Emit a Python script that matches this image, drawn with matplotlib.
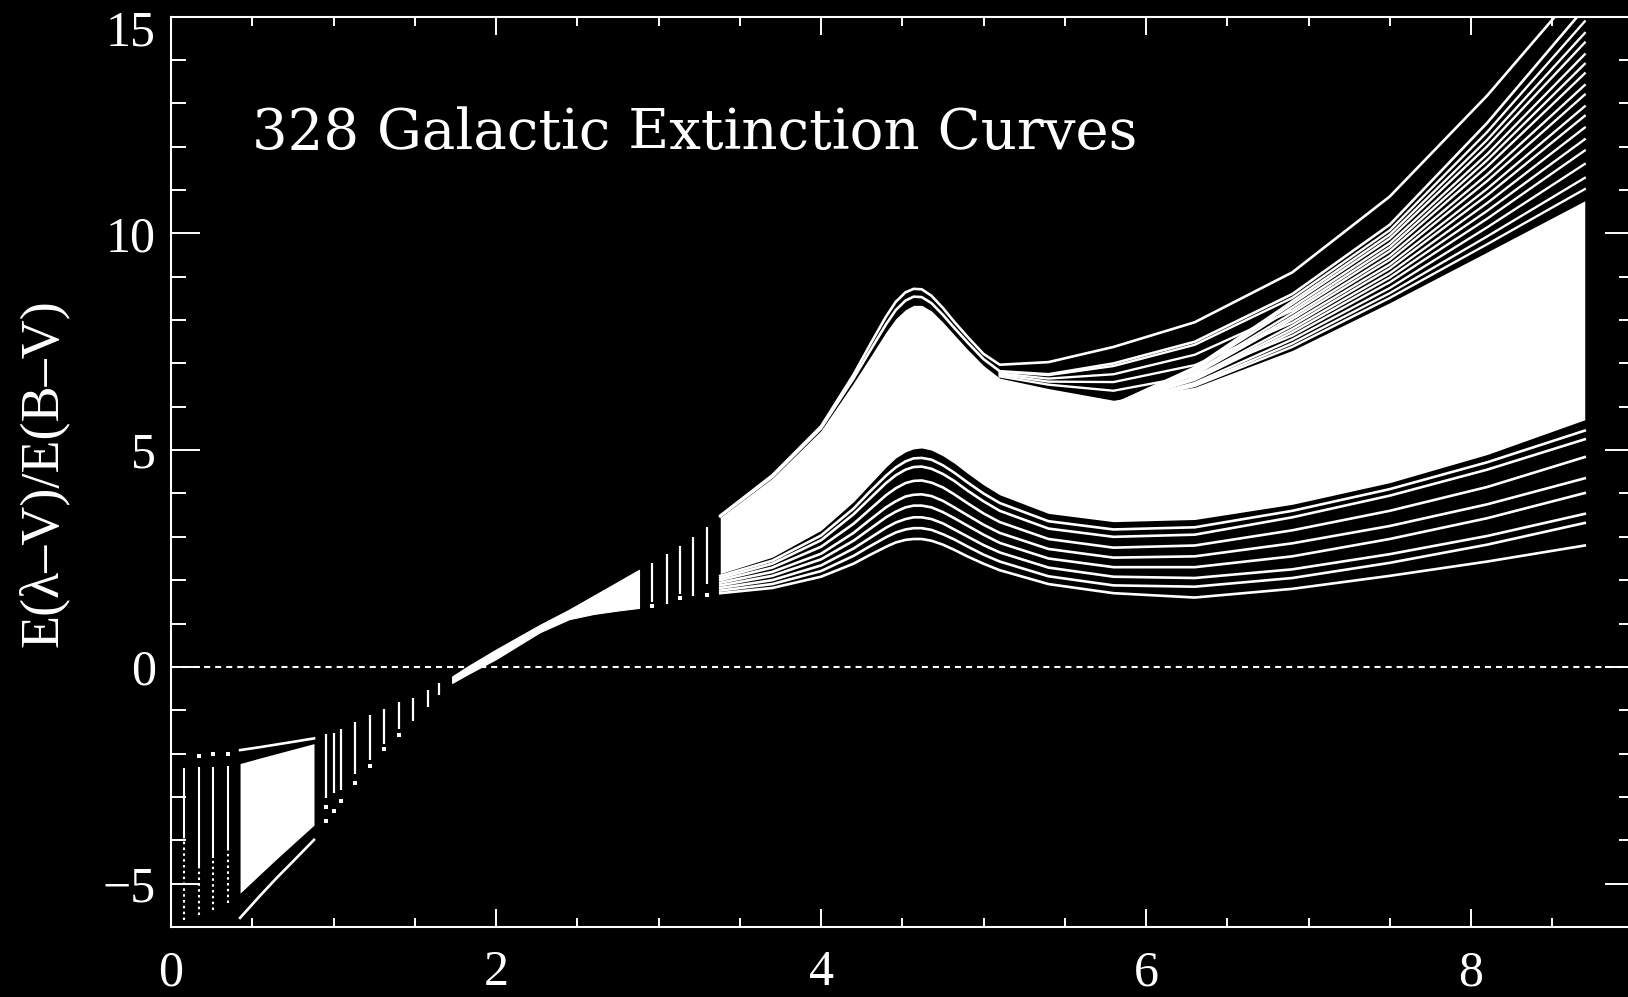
import matplotlib
matplotlib.use("Agg")
import matplotlib.pyplot as plt
from matplotlib.ticker import MultipleLocator
from matplotlib.transforms import ScaledTranslation

plt.rcParams['font.family'] = ['Liberation Serif', 'DejaVu Serif']

# --- UV part (x in 1/micron) -------------------------------------------
uv_x = [3.38, 3.7, 4.0, 4.2, 4.3, 4.4, 4.46, 4.52, 4.57, 4.62, 4.68, 4.75,
        4.82, 4.9, 5.0, 5.1, 5.4, 5.8, 6.3, 6.9, 7.5, 8.1, 8.7]

# two strongest-bump curves along the top edge
uv_top1 = [3.49, 4.42, 5.55, 6.74, 7.42, 8.08, 8.42, 8.64, 8.72, 8.71, 8.56, 8.28,
           7.96, 7.62, 7.22, 6.97, 7.03, 7.38, 7.95, 9.10, 10.85, 13.18, 15.8]
uv_top2 = [3.47, 4.38, 5.50, 6.65, 7.28, 7.90, 8.23, 8.45, 8.54, 8.53, 8.39, 8.12,
           7.82, 7.49, 7.10, 6.82, 6.75, 7.00, 7.50, 8.60, 10.20, 12.55, 15.2]

# bulk of the sample, too dense to separate
uv_band_hi = [3.45, 4.35, 5.45, 6.55, 7.13, 7.72, 8.03, 8.24, 8.34, 8.34, 8.21, 7.95,
              7.66, 7.33, 6.95, 6.66, 6.42, 6.15, 6.45, 7.30, 8.40, 9.57, 10.75]
uv_band_lo = [2.15, 2.53, 3.15, 3.81, 4.21, 4.61, 4.82, 4.96, 5.03, 5.05, 5.00, 4.87,
              4.70, 4.47, 4.20, 3.97, 3.54, 3.35, 3.40, 3.75, 4.25, 4.90, 5.70]

# weak-bump curves under the band
uv_low = [
    [1.70, 1.82, 2.08, 2.38, 2.58, 2.77, 2.87, 2.93, 2.95, 2.95, 2.91, 2.82,
     2.70, 2.55, 2.38, 2.23, 1.91, 1.70, 1.60, 1.80, 2.10, 2.43, 2.80],
    [1.76, 1.91, 2.21, 2.56, 2.78, 2.99, 3.10, 3.17, 3.20, 3.20, 3.16, 3.06,
     2.94, 2.78, 2.59, 2.43, 2.09, 1.88, 1.85, 2.05, 2.40, 2.82, 3.32],
    [1.82, 2.00, 2.34, 2.73, 2.97, 3.21, 3.33, 3.41, 3.45, 3.45, 3.41, 3.31,
     3.17, 3.01, 2.81, 2.64, 2.29, 2.08, 2.05, 2.25, 2.60, 3.02, 3.53],
    [1.88, 2.10, 2.48, 2.91, 3.18, 3.45, 3.58, 3.68, 3.72, 3.72, 3.68, 3.57,
     3.43, 3.26, 3.05, 2.86, 2.50, 2.30, 2.30, 2.55, 2.95, 3.43, 4.01],
    [1.94, 2.19, 2.61, 3.09, 3.39, 3.68, 3.82, 3.93, 3.97, 3.98, 3.94, 3.83,
     3.68, 3.50, 3.28, 3.09, 2.72, 2.52, 2.55, 2.85, 3.25, 3.75, 4.35],
    [2.00, 2.29, 2.77, 3.30, 3.63, 3.96, 4.12, 4.24, 4.29, 4.30, 4.25, 4.14,
     3.98, 3.78, 3.54, 3.34, 2.95, 2.75, 2.80, 3.15, 3.60, 4.15, 4.84],
    [2.05, 2.38, 2.92, 3.52, 3.88, 4.24, 4.42, 4.55, 4.61, 4.62, 4.57, 4.45,
     4.29, 4.07, 3.82, 3.60, 3.19, 3.00, 3.05, 3.45, 3.95, 4.55, 5.25],
    [2.10, 2.45, 3.03, 3.65, 4.04, 4.41, 4.60, 4.74, 4.81, 4.82, 4.78, 4.65,
     4.48, 4.26, 4.00, 3.78, 3.36, 3.17, 3.22, 3.60, 4.10, 4.72, 5.45],
]

# steep far-UV curves fanning out above the band
fan_x = [5.1, 5.4, 5.8, 6.3, 6.9, 7.5, 8.1, 8.7]
fan_curves = [
    # already clear of the band just past the bump
    [6.81, 6.73, 6.94, 7.43, 8.51, 10.07, 12.34, 14.89],
    [6.77, 6.65, 6.75, 7.20, 8.22, 9.68, 11.69, 13.91],
    [6.74, 6.58, 6.57, 6.96, 7.94, 9.28, 11.03, 12.93],
    [6.70, 6.51, 6.37, 6.72, 7.64, 8.87, 10.34, 11.91],
    # leaving the band only beyond x ~ 6
    [6.55, 6.30, 6.05, 6.91, 8.43, 9.97, 12.16, 14.62],
    [6.55, 6.30, 6.05, 6.88, 8.37, 9.88, 12.01, 14.40],
    [6.55, 6.30, 6.05, 6.85, 8.29, 9.77, 11.83, 14.13],
    [6.55, 6.30, 6.05, 6.80, 8.16, 9.59, 11.54, 13.69],
    [6.55, 6.30, 6.05, 6.77, 8.08, 9.48, 11.36, 13.42],
    [6.55, 6.30, 6.05, 6.74, 8.02, 9.39, 11.21, 13.20],
    [6.55, 6.30, 6.05, 6.68, 7.87, 9.19, 10.88, 12.71],
    [6.55, 6.30, 6.05, 6.65, 7.79, 9.08, 10.70, 12.44],
    [6.55, 6.30, 6.05, 6.62, 7.72, 8.98, 10.52, 12.17],
    [6.55, 6.30, 6.05, 6.55, 7.55, 8.74, 10.14, 11.60],
    [6.55, 6.30, 6.05, 6.51, 7.46, 8.62, 9.93, 11.28],
    [6.55, 6.30, 6.05, 6.48, 7.38, 8.51, 9.75, 11.02],
]

# --- optical ---------------------------------------------------------------
opt_x = [1.73, 1.83, 2.0, 2.27, 2.45, 2.6, 2.75, 2.88]
opt_lo = [-0.37, -0.16, 0.18, 0.80, 1.10, 1.22, 1.30, 1.36]
opt_hi = [-0.22, 0.02, 0.40, 0.97, 1.32, 1.64, 1.96, 2.24]

# sparse points between optical and UV
vis_x = [2.96, 3.05, 3.13, 3.21, 3.30]
vis_top = [2.39, 2.61, 2.78, 2.99, 3.22]
vis_bot = [1.50, 1.46, 1.69, 1.63, 1.92]
vis_dot_x = [2.96, 3.13, 3.30]
vis_dot_y = [1.40, 1.59, 1.65]

# sparse points between near-IR and optical
nir_x = [0.954, 1.001, 1.046, 1.134, 1.224, 1.313, 1.401, 1.491, 1.580, 1.652]
nir_top = [-1.54, -1.52, -1.44, -1.27, -1.10, -0.98, -0.82, -0.71, -0.54, -0.37]
nir_bot = [-3.03, -2.92, -2.83, -2.46, -2.15, -1.77, -1.44, -1.25, -0.92, -0.65]
nir_dot_x = [0.954, 0.954, 1.001, 1.046, 1.134, 1.224, 1.313, 1.401]
nir_dot_y = [-3.23, -3.55, -3.32, -3.10, -2.67, -2.28, -1.90, -1.56]

# --- infrared ----------------------------------------------------------------
ir_x = [0.425, 0.55, 0.65, 0.75, 0.88]
ir_top_curve = [-1.92, -1.85, -1.79, -1.73, -1.65]
ir_band_hi = [-2.23, -2.10, -2.00, -1.90, -1.77]
ir_band_lo = [-5.22, -4.78, -4.43, -4.09, -3.65]
ir_low_curve = [-5.79, -5.27, -4.87, -4.49, -3.99]

far_ir_x = [0.08, 0.17, 0.26, 0.35]
far_ir_top = [-2.34, -2.31, -2.31, -2.29]
far_ir_mid = [-3.95, -4.60, -4.40, -4.20]
far_ir_bot = [-5.84, -5.72, -5.61, -5.45]
far_ir_dot_x = [0.17, 0.26, 0.35]
far_ir_dot_y = [-2.05, -2.00, -2.00]

W = 1628
H = 997
fig = plt.figure(figsize=(W / 100, H / 100), dpi=100, facecolor='black')
ax = fig.add_axes([171 / W, 70 / H, 1462.5 / W, 910.4 / H])
ax.set_facecolor('black')
ax.set_xlim(0, 9)
ax.set_ylim(-6, 15)

lw = 1.9
col = 'white'

# UV
ax.fill_between(uv_x, uv_band_lo, uv_band_hi, color=col, lw=0)
for c in uv_low:
    ax.plot(uv_x, c, color=col, lw=lw)
ax.plot(uv_x, uv_top1, color=col, lw=lw)
ax.plot(uv_x, uv_top2, color=col, lw=lw)
for c in fan_curves:
    ax.plot(fan_x, c, color=col, lw=1.7)

# optical
ax.fill_between(opt_x, opt_lo, opt_hi, color=col, lw=0.8, edgecolor=col)
ax.vlines(vis_x, vis_bot, vis_top, color=col, lw=1.6)
ax.plot(vis_dot_x, vis_dot_y, 's', color=col, ms=2.2, mew=0)

# near-IR
ax.vlines(nir_x, nir_bot, nir_top, color=col, lw=1.6)
ax.plot(nir_dot_x, nir_dot_y, 's', color=col, ms=2.2, mew=0)

# IR
ax.fill_between(ir_x, ir_band_lo, ir_band_hi, color=col, lw=0)
ax.plot(ir_x, ir_top_curve, color=col, lw=lw)
ax.plot(ir_x, ir_low_curve, color=col, lw=lw)
ax.vlines(far_ir_x, far_ir_mid, far_ir_top, color=col, lw=1.5)
ax.vlines(far_ir_x, far_ir_bot, far_ir_mid, color=col, lw=1.5, linestyles=(0, (1.2, 1.6)))
ax.plot(far_ir_dot_x, far_ir_dot_y, 's', color=col, ms=2.2, mew=0)

ax.axhline(0, color=col, lw=1.5, ls=(0, (2.9, 2.4)))

ax.text(0.5, 11.94, '328 Galactic Extinction Curves', color=col, fontsize=40.5,
        family='DejaVu Serif', ha='left', va='baseline')
fig.text(43.6 / W, 0.525, 'E(\u03bb\u2013V)/E(B\u2013V)', color=col, fontsize=39,
         rotation=90, ha='center', va='center')

for s in ax.spines.values():
    s.set_color(col)
    s.set_linewidth(1.5)

ax.xaxis.set_major_locator(MultipleLocator(2))
ax.xaxis.set_minor_locator(MultipleLocator(0.5))
ax.yaxis.set_major_locator(MultipleLocator(5))
ax.yaxis.set_minor_locator(MultipleLocator(1))
ax.tick_params(which='both', direction='in', top=True, right=True,
               colors=col, width=1.4, labelsize=36)
ax.tick_params(axis='x', which='major', length=13, pad=16.5)
ax.tick_params(axis='x', which='minor', length=6.5)
ax.tick_params(axis='y', which='major', length=21, pad=11)
ax.tick_params(axis='y', which='minor', length=10.5)

# tick locations are only assigned at draw time; then nudge the top label down
fig.canvas.draw()
shift = ScaledTranslation(0, -0.11, fig.dpi_scale_trans)
for t in ax.yaxis.get_major_ticks():
    if abs(t.get_loc() - 15) < 1e-6:
        t.label1.set_transform(t.label1.get_transform() + shift)

fig.savefig('out.png', dpi=100, facecolor='black')
